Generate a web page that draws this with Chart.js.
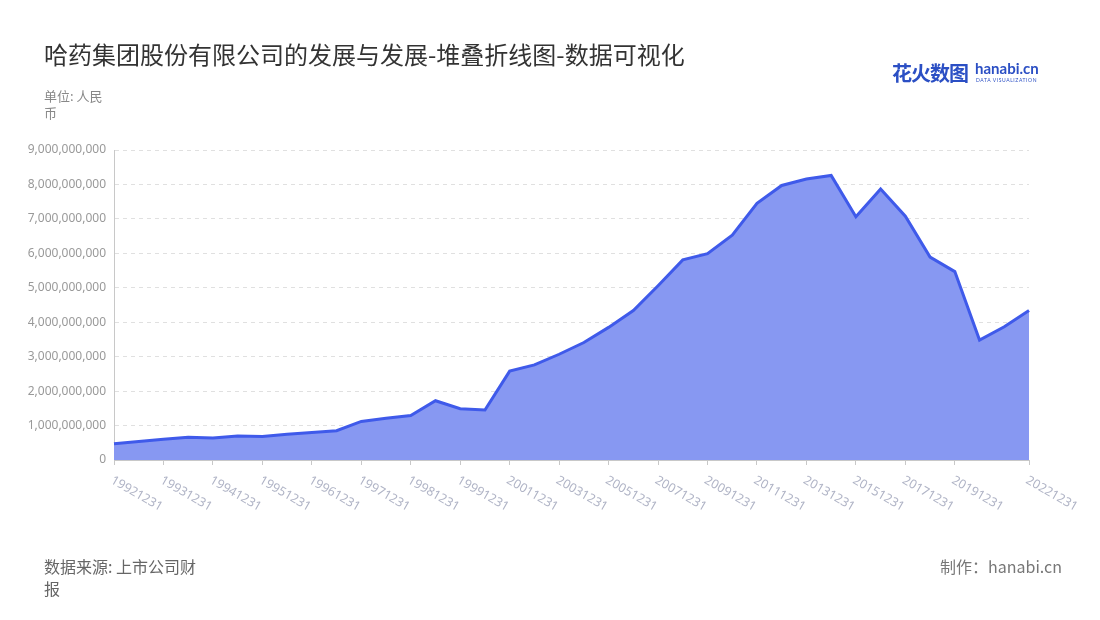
<!DOCTYPE html>
<html>
<head>
<meta charset="utf-8">
<script src="https://cdn.jsdelivr.net/npm/chart.js@4.4.0/dist/chart.umd.min.js"></script>
<style>
  body { margin: 0; background: #fff; font-family: "Noto Sans CJK SC", "Noto Sans", sans-serif; }
  #wrap { position: relative; width: 1100px; height: 620px; overflow: hidden; }
  #grafica { position: absolute; left: 0; top: 0; }
  .txt { position: absolute; white-space: nowrap; }
  #titulo { left: 44px; top: 36px; font-size: 24px; color: #333; }
  #unidad { left: 44px; top: 87px; font-size: 13px; line-height: 17px; color: #888; }
  #fuente { left: 44px; top: 555px; font-size: 16px; line-height: 22px; color: #666; }
  #autor { right: 38px; top: 555px; font-size: 16px; line-height: 22px; color: #777; }
  #logo { left: 892px; top: 58px; color: #2b4fc4; }
  #logo .cn { font-size: 20px; font-weight: bold; letter-spacing: -1px; }
  #logo .en { position: absolute; left: 83px; top: 1px; font-family: Lato, sans-serif; font-size: 15px; font-weight: bold; }
  #logo .sub { position: absolute; left: 84px; top: 19px; font-family: Lato, sans-serif; font-size: 5px; letter-spacing: 0.6px; }
</style>
</head>
<body>
<div id="wrap">
  <canvas id="grafica" width="1100" height="620"></canvas>
  <div class="txt" id="titulo">哈药集团股份有限公司的发展与发展-堆叠折线图-数据可视化</div>
  <div class="txt" id="unidad">单位: 人民<br>币</div>
  <div class="txt" id="fuente">数据来源: 上市公司财<br>报</div>
  <div class="txt" id="autor">制作：hanabi.cn</div>
  <div class="txt" id="logo"><span class="cn">花火数图</span><span class="en">hanabi.cn</span><span class="sub">DATA VISUALIZATION</span></div>
</div>
<script>
// Fechas del reporte (semestral hasta 1999, luego anual)
const fechas = [
  '19921231', '19930630', '19931231', '19940630', '19941231', '19950630', '19951231',
  '19960630', '19961231', '19970630', '19971231', '19980630', '19981231', '19990630',
  '19991231', '20001231', '20011231', '20021231', '20031231', '20041231', '20051231',
  '20061231', '20071231', '20081231', '20091231', '20101231', '20111231', '20121231',
  '20131231', '20141231', '20151231', '20161231', '20171231', '20181231', '20191231',
  '20201231', '20211231', '20221231'
];

// Valores (人民币)
const valores = [
  470000000, 540000000, 600000000, 660000000, 640000000, 700000000, 680000000,
  750000000, 800000000, 850000000, 1120000000, 1210000000, 1290000000, 1720000000,
  1490000000, 1450000000, 2580000000, 2760000000, 3070000000, 3410000000, 3850000000,
  4340000000, 5060000000, 5810000000, 5990000000, 6530000000, 7450000000, 7970000000,
  8160000000, 8260000000, 7060000000, 7870000000, 7080000000, 5890000000, 5470000000,
  3480000000, 3870000000, 4340000000
];

// Etiquetas visibles en el eje X: una sí, una no, más la última
function etiquetaVisible(i) {
  return (i % 2 === 0 && i < fechas.length - 2) || i === fechas.length - 1;
}

// Plugin para dibujar las fechas giradas hacia abajo a la derecha
const fechasGiradas = {
  id: 'fechasGiradas',
  afterDraw(chart) {
    const ctx = chart.ctx;
    const escalaX = chart.scales.x;
    ctx.save();
    ctx.font = '12.5px "Noto Sans", "DejaVu Sans", sans-serif';
    ctx.fillStyle = '#b0b4c6';
    ctx.textAlign = 'left';
    ctx.textBaseline = 'top';
    fechas.forEach((f, i) => {
      if (!etiquetaVisible(i)) return;
      const x = escalaX.getPixelForValue(i);
      ctx.save();
      ctx.translate(x + 1, escalaX.top + 14);
      ctx.rotate(Math.PI / 6);
      ctx.fillText(f, 0, 0);
      ctx.restore();
    });
    ctx.restore();
  }
};

new Chart(document.getElementById('grafica'), {
  type: 'line',
  data: {
    labels: fechas,
    datasets: [{
      data: valores,
      borderColor: '#3f5aea',
      backgroundColor: '#8798f2',
      borderWidth: 3,
      fill: 'origin',
      tension: 0,
      pointRadius: 0,
      pointHoverRadius: 0
    }]
  },
  options: {
    responsive: false,
    animation: false,
    layout: { padding: { left: 0, top: 150, right: 71, bottom: 0 } },
    plugins: { legend: { display: false }, tooltip: { enabled: false } },
    scales: {
      x: {
        offset: false,
        ticks: { display: false },
        grid: {
          drawOnChartArea: false,
          drawTicks: true,
          tickLength: 5,
          color: c => etiquetaVisible(c.index) ? '#c8c8c8' : 'rgba(0,0,0,0)'
        },
        border: { display: true, color: '#c8c8c8' },
        afterFit: s => { s.height = 160; }
      },
      y: {
        min: 0,
        max: 9000000000,
        ticks: {
          stepSize: 1000000000,
          padding: 8,
          color: '#999',
          font: { family: '"Noto Sans", "DejaVu Sans", sans-serif', size: 12 },
          callback: v => v.toLocaleString('en-US')
        },
        grid: {
          drawTicks: false,
          color: '#e0e0e0',
          lineWidth: 1
        },
        border: { display: true, color: '#c8c8c8', dash: [4, 4] },
        afterFit: s => { s.width = 114; }
      }
    }
  },
  plugins: [fechasGiradas]
});
</script>
</body>
</html>
